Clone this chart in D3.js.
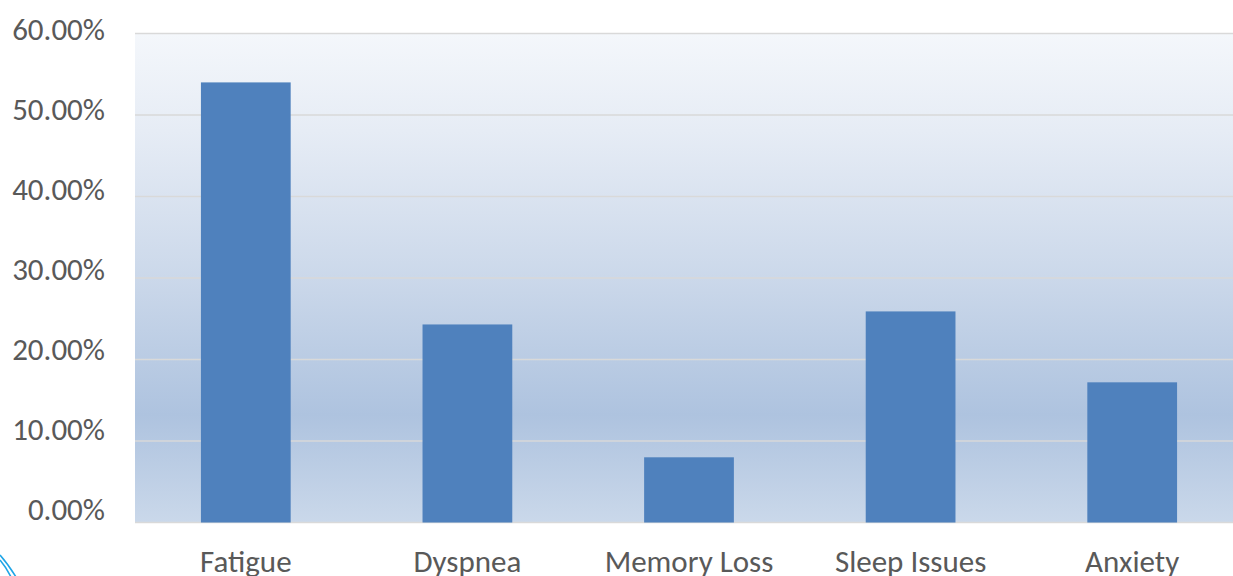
<!DOCTYPE html>
<html>
<head>
<meta charset="utf-8">
<script src="https://cdn.jsdelivr.net/npm/d3@7"></script>
<style>
html,body{margin:0;padding:0;background:#fff;}
svg{display:block;}
text{font-family:Carlito,Lato,"Open Sans",sans-serif;fill:#595959;}
</style>
</head>
<body>
<svg id="chart" width="1233" height="576"></svg>
<script>
const categories = ["Fatigue", "Dyspnea", "Memory Loss", "Sleep Issues", "Anxiety"];
const values = [0.540, 0.243, 0.080, 0.259, 0.172];
const yTicks = [0, 0.1, 0.2, 0.3, 0.4, 0.5, 0.6];

const svg = d3.select("#chart");
const margin = {left: 135, right: 1243, top: 33.5, bottom: 522.5};

const x = d3.scaleBand().domain(categories)
  .range([margin.left, margin.right])
  .paddingInner(0.595).paddingOuter(0.2975);
const y = d3.scaleLinear().domain([0, 0.6]).range([margin.bottom, margin.top]);
// label baselines (Excel places them on a slightly tighter spacing)
const yLab = d3.scaleLinear().domain([0, 0.6]).range([margin.bottom - 3.5, margin.top + 5.5]);

const defs = svg.append("defs");
const grad = defs.append("linearGradient").attr("id", "bg")
  .attr("x1", 0).attr("y1", 0).attr("x2", 0).attr("y2", 1);
[[0, "#f4f7fb"], [0.2, "#e6ecf5"], [0.5, "#cbd8ea"], [0.78, "#aec3df"], [1, "#cad8ea"]]
  .forEach(([o, c]) => grad.append("stop").attr("offset", o).attr("stop-color", c));

svg.append("rect")
  .attr("x", margin.left).attr("y", margin.top)
  .attr("width", margin.right - margin.left)
  .attr("height", margin.bottom - margin.top)
  .attr("fill", "url(#bg)");

// gridlines
svg.append("g").selectAll("line").data(yTicks).join("line")
  .attr("x1", margin.left).attr("x2", margin.right)
  .attr("y1", d => y(d)).attr("y2", d => y(d))
  .attr("stroke", "#d9d9d9").attr("stroke-width", 1.6);

// y axis labels
const yAxis = d3.axisLeft(yLab).tickValues(yTicks).tickFormat(d3.format(".2%")).tickSize(0).tickPadding(0);
const gy = svg.append("g").attr("transform", "translate(105,0)").call(yAxis);
gy.select(".domain").remove();
gy.selectAll("text").style("font-size", "31px").attr("fill", "#595959").attr("dy", "0");

// bars
svg.append("g").selectAll("rect").data(values).join("rect")
  .attr("x", (d, i) => x(categories[i]))
  .attr("width", x.bandwidth())
  .attr("y", d => y(d))
  .attr("height", d => y(0) - y(d))
  .attr("fill", "#4f81bd");

// x axis labels
const xAxis = d3.axisBottom(x).tickSize(0).tickPadding(0);
const gx = svg.append("g").attr("transform", "translate(0,572)").call(xAxis);
gx.select(".domain").remove();
gx.selectAll("text").style("font-size", "31px").attr("fill", "#595959").attr("dy", "0");

// decorative corner lines
const corner = svg.append("g").attr("fill", "none").attr("stroke", "#1fa5e6").attr("stroke-width", 1.6);
corner.append("path").attr("d", "M0,555 Q8,564 16,577");
corner.append("path").attr("d", "M0,560 Q6,567 11,577");
</script>
</body>
</html>
